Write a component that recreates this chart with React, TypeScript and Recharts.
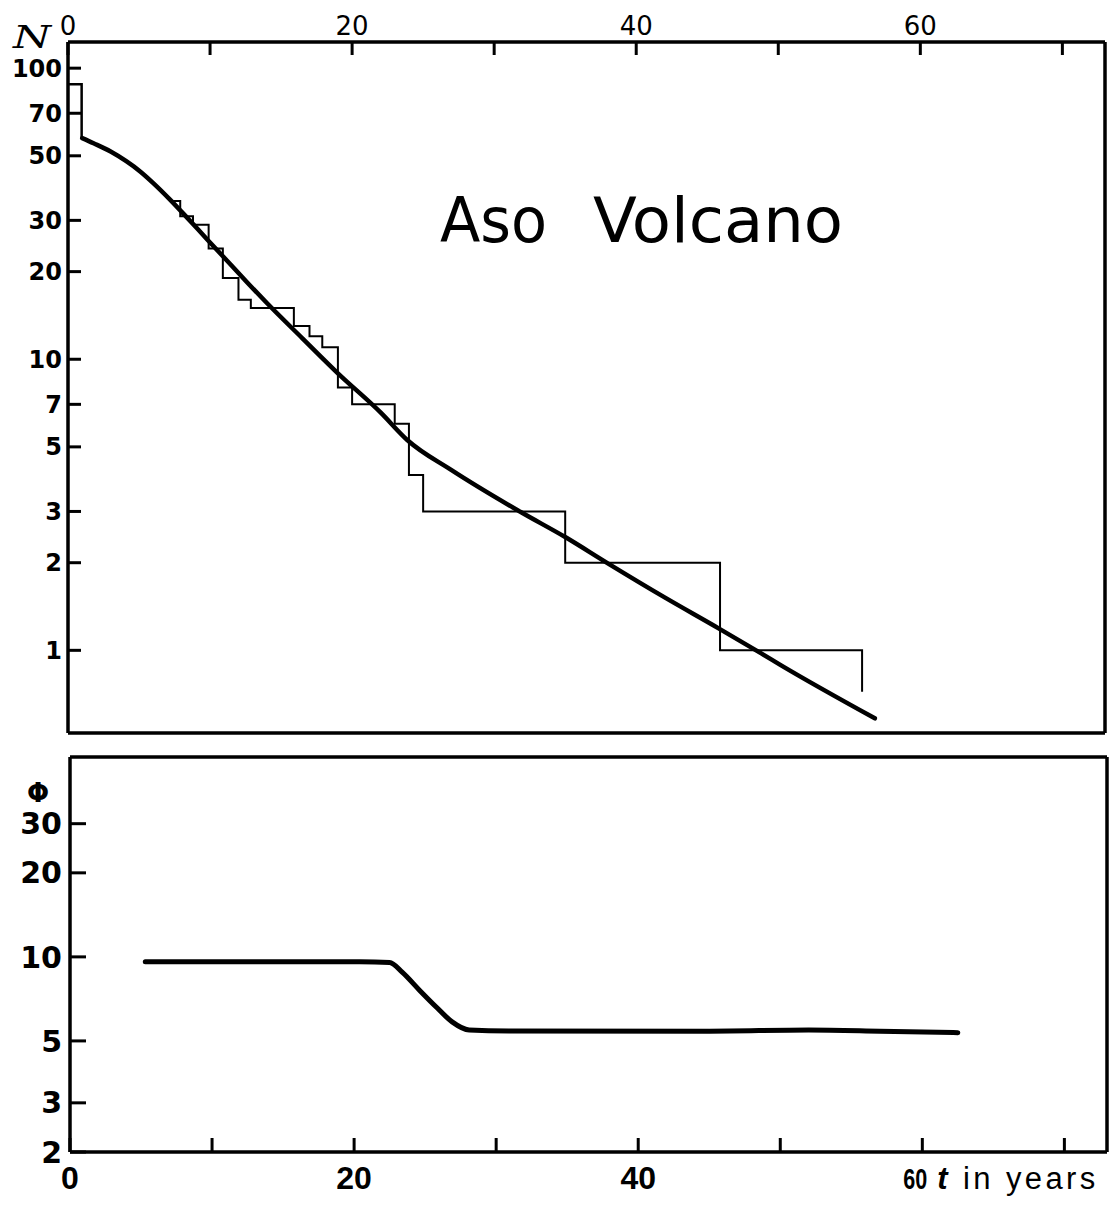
import React from "react";
import { Line, LineChart, XAxis, YAxis } from "recharts";

// year axis
const yearTicks = [0, 10, 20, 30, 40, 50, 60, 70];
const yearLabels = [0, 20, 40, 60];
const nTicks = [1, 2, 3, 5, 7, 10, 20, 30, 50, 70, 100];
const phiTicks = [2, 3, 5, 10, 20, 30];

// first block of the observed count N(t)
const headYears = [0, 0.96];
const headCounts = [88, 57];

// observed staircase N(t) (the part before t = 7 lies under the fitted curve)
const stepYears = [7.3, 7.9, 8.8, 9.9, 10.9, 12, 12.87, 15.9, 17, 17.9, 19, 20, 23, 24, 25, 35, 45.9, 55.9];
const stepCounts = [35, 31, 29, 24, 19, 16, 15, 13, 12, 11, 8, 7, 6, 4, 3, 2, 1, 0.72];

// fitted smooth curve N(t)
const curveYears = [1.0, 1.8, 3.0, 4.1, 5.1, 6.0, 7.2, 8.4, 9.8, 11.2, 12.6, 14.0, 16.5, 19, 22, 23.9, 27, 31.9, 35, 38, 42, 45.8, 48.8, 50.2, 56.8];
const curveCounts = [57.5, 55.2, 51.7, 47.9, 44.1, 40.3, 35.3, 30.6, 25.8, 21.8, 18.4, 15.6, 11.8, 8.95, 6.57, 5.27, 4.16, 2.98, 2.45, 1.99, 1.52, 1.19, 0.976, 0.888, 0.584];

// Phi(t)
const phiYears = [5.3, 20.4, 22.5, 23.4, 24.6, 25.8, 26.9, 28.1, 30.9, 45, 52, 57, 62.5];
const phiValues = [9.6, 9.6, 9.55, 8.8, 7.6, 6.6, 5.85, 5.47, 5.43, 5.42, 5.47, 5.42, 5.35];

const headData = headYears.map((t, i) => ({ t, n: headCounts[i] }));
const stepData = stepYears.map((t, i) => ({ t, n: stepCounts[i] }));
const curveData = curveYears.map((t, i) => ({ t, n: curveCounts[i] }));
const phiData = phiYears.map((t, i) => ({ t, phi: phiValues[i] }));

const FONT = "DejaVu Sans";
const INK = "#000";
const border = { stroke: INK, strokeWidth: 3.5 };
const tickStroke = { stroke: INK, strokeWidth: 3 };

function BottomYearTick(props: any) {
  const { x, y, payload } = props;
  const v = payload.value;
  if (!yearLabels.includes(v)) return null;
  if (v === 60) {
    return (
      <g>
        <text x={x - 19} y={y} fontFamily="Liberation Sans" fontWeight="bold" fontSize={30} fill={INK} textLength={24} lengthAdjust="spacingAndGlyphs">
          60
        </text>
        <text x={x + 15} y={y} fontFamily="Liberation Sans" fontSize={31} fill={INK} textLength={158} lengthAdjust="spacing">
          <tspan fontStyle="italic" fontWeight="bold">t</tspan> in years
        </text>
      </g>
    );
  }
  return (
    <text x={x} y={y} textAnchor="middle" fontFamily="Liberation Sans" fontWeight="bold" fontSize={32} fill={INK}>
      {v}
    </text>
  );
}

const lineBase = { xAxisId: "top", yAxisId: "left", stroke: INK, dot: false, activeDot: false } as const;

export default function App() {
  return (
    <div style={{ position: "absolute", left: 0, top: 0, width: 1111, height: 1207, background: "#fff" }}>
      <div style={{ position: "absolute", left: 0, top: 0 }}>
        <LineChart width={1111} height={745} margin={{ top: 12, right: 5, bottom: 11, left: 18 }}>
          <XAxis
            xAxisId="top"
            orientation="top"
            type="number"
            dataKey="t"
            domain={[0, 73]}
            allowDataOverflow
            ticks={yearTicks}
            interval={0}
            height={30}
            tickSize={-13}
            tickMargin={20}
            tickFormatter={(v: number) => (yearLabels.includes(v) ? String(v) : "")}
            tick={{ fontSize: 26, fontFamily: FONT, fill: INK }}
            axisLine={border}
            tickLine={tickStroke}
          />
          <XAxis
            xAxisId="bottom"
            orientation="bottom"
            type="number"
            dataKey="t"
            domain={[0, 73]}
            allowDataOverflow
            ticks={yearTicks.slice(1)}
            interval={0}
            height={1}
            tickSize={-13}
            tick={false}
            axisLine={border}
            tickLine={tickStroke}
          />
          <YAxis
            yAxisId="left"
            orientation="left"
            scale="log"
            type="number"
            domain={[0.52, 123]}
            allowDataOverflow
            ticks={nTicks}
            interval={0}
            width={50}
            tickSize={-13}
            tickMargin={19}
            tick={{ fontSize: 24, fontFamily: FONT, fontWeight: "bold", fill: INK }}
            axisLine={border}
            tickLine={tickStroke}
          />
          <YAxis
            yAxisId="right"
            orientation="right"
            scale="log"
            type="number"
            domain={[0.52, 123]}
            allowDataOverflow
            ticks={nTicks}
            interval={0}
            width={1}
            tickSize={-12}
            tick={false}
            axisLine={border}
            tickLine={tickStroke}
          />
          <Line {...lineBase} data={headData} dataKey="n" type="stepAfter" strokeWidth={2.5} isAnimationActive={false} />
          <Line {...lineBase} data={stepData} dataKey="n" type="stepAfter" strokeWidth={2} isAnimationActive={false} />
          <Line
            {...lineBase}
            data={curveData}
            dataKey="n"
            type="monotone"
            strokeWidth={4.5}
            strokeLinecap="round"
            isAnimationActive={false}
          />
        </LineChart>
      </div>

      <div style={{ position: "absolute", left: 0, top: 745 }}>
        <LineChart width={1111} height={462} margin={{ top: 11, right: 3, bottom: 10, left: 20 }}>
          <XAxis
            xAxisId="top"
            orientation="top"
            type="number"
            dataKey="t"
            domain={[0, 73]}
            allowDataOverflow
            ticks={yearTicks.slice(1)}
            interval={0}
            height={1}
            tickSize={-14}
            tick={false}
            axisLine={border}
            tickLine={tickStroke}
          />
          <XAxis
            xAxisId="bottom"
            orientation="bottom"
            type="number"
            dataKey="t"
            domain={[0, 73]}
            allowDataOverflow
            ticks={yearTicks}
            interval={0}
            height={45}
            tickSize={-14}
            tickMargin={51}
            tick={<BottomYearTick />}
            axisLine={border}
            tickLine={tickStroke}
          />
          <YAxis
            yAxisId="left"
            orientation="left"
            scale="log"
            type="number"
            domain={[2, 52]}
            allowDataOverflow
            ticks={phiTicks}
            interval={0}
            width={50}
            tickSize={-16}
            tickMargin={24}
            tick={{ fontSize: 30, fontFamily: FONT, fontWeight: "bold", fill: INK }}
            axisLine={border}
            tickLine={tickStroke}
          />
          <YAxis
            yAxisId="right"
            orientation="right"
            scale="log"
            type="number"
            domain={[2, 52]}
            allowDataOverflow
            ticks={phiTicks.slice(1)}
            interval={0}
            width={1}
            tickSize={-12}
            tick={false}
            axisLine={border}
            tickLine={tickStroke}
          />
          <Line
            xAxisId="bottom"
            yAxisId="left"
            data={phiData}
            dataKey="phi"
            type="monotone"
            stroke={INK}
            strokeWidth={5}
            strokeLinecap="round"
            dot={false}
            activeDot={false}
            isAnimationActive={false}
          />
        </LineChart>
      </div>

      <svg width={1111} height={1207} style={{ position: "absolute", left: 0, top: 0, pointerEvents: "none" }}>
        <text x={440} y={242} fontSize={62} fontFamily={FONT} fill={INK} textLength={107} lengthAdjust="spacingAndGlyphs">
          Aso
        </text>
        <text x={593} y={242} fontSize={62} fontFamily={FONT} fill={INK} textLength={250} lengthAdjust="spacingAndGlyphs">
          Volcano
        </text>
        <text x={13} y={48} fontSize={32} fontFamily="DejaVu Serif" fontStyle="italic" fill={INK} textLength={38} lengthAdjust="spacingAndGlyphs">
          N
        </text>
        <text x={38} y={802} textAnchor="middle" fontSize={26} fontFamily={FONT} fontWeight="bold" fill={INK}>
          Φ
        </text>
      </svg>
    </div>
  );
}
